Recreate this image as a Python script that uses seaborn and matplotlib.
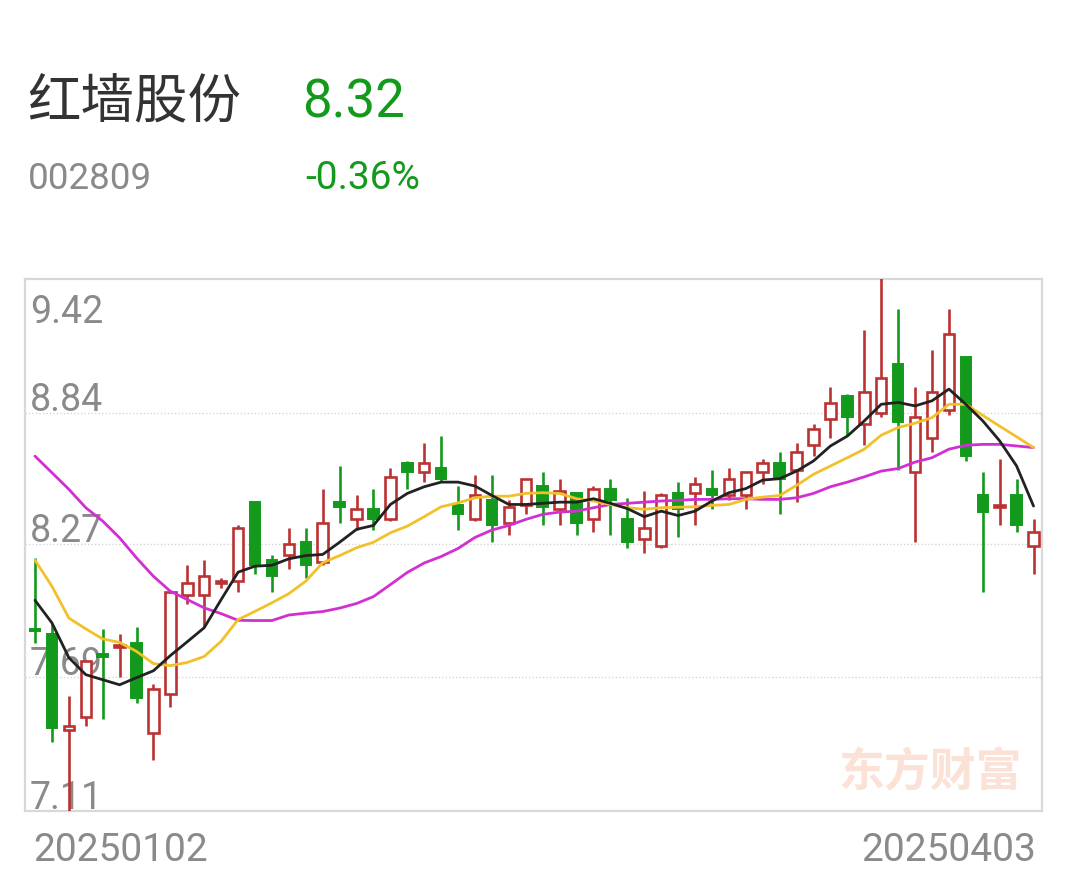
import numpy as np
import pandas as pd
import matplotlib
matplotlib.use("Agg")
import matplotlib.pyplot as plt
import seaborn as sns

# Daily K-line 20250102 - 20250403 (60 trading days)
opens = [7.90, 7.88, 7.46, 7.52, 7.79, 7.82, 7.84, 7.45, 7.62, 8.05,
         8.05, 8.10, 8.11, 8.45, 8.20, 8.22, 8.28, 8.19, 8.45, 8.38,
         8.42, 8.38, 8.62, 8.58, 8.60, 8.44, 8.38, 8.46, 8.36, 8.44,
         8.52, 8.42, 8.49, 8.38, 8.51, 8.38, 8.29, 8.26, 8.49, 8.49,
         8.51, 8.48, 8.48, 8.58, 8.62, 8.59, 8.70, 8.81, 8.91, 8.79,
         8.84, 9.05, 8.58, 8.73, 8.85, 9.08, 8.48, 8.43, 8.48, 8.26]
closes = [7.89, 7.47, 7.48, 7.76, 7.78, 7.83, 7.60, 7.64, 8.06, 8.10,
          8.13, 8.11, 8.34, 8.18, 8.13, 8.27, 8.18, 8.36, 8.43, 8.42,
          8.38, 8.56, 8.58, 8.62, 8.55, 8.40, 8.48, 8.35, 8.43, 8.55,
          8.43, 8.50, 8.36, 8.51, 8.46, 8.28, 8.34, 8.48, 8.42, 8.53,
          8.48, 8.55, 8.58, 8.62, 8.55, 8.67, 8.77, 8.88, 8.82, 8.93,
          8.99, 8.80, 8.82, 8.93, 9.18, 8.65, 8.41, 8.44, 8.35, 8.32]
highs = [8.21, 7.92, 7.61, 7.76, 7.90, 7.88, 7.91, 7.66, 8.07, 8.18,
         8.20, 8.12, 8.35, 8.45, 8.22, 8.34, 8.34, 8.51, 8.61, 8.48,
         8.51, 8.60, 8.63, 8.71, 8.74, 8.52, 8.57, 8.57, 8.46, 8.55,
         8.58, 8.55, 8.49, 8.52, 8.55, 8.47, 8.50, 8.49, 8.54, 8.56,
         8.59, 8.60, 8.58, 8.64, 8.67, 8.71, 8.79, 8.95, 8.92, 9.20,
         9.45, 9.29, 8.95, 9.11, 9.29, 9.08, 8.58, 8.64, 8.55, 8.38]
lows = [7.84, 7.41, 7.08, 7.48, 7.51, 7.69, 7.58, 7.33, 7.56, 8.01,
        7.91, 8.08, 8.06, 8.14, 8.06, 8.16, 8.12, 8.18, 8.36, 8.33,
        8.33, 8.37, 8.51, 8.54, 8.54, 8.33, 8.37, 8.28, 8.31, 8.40,
        8.35, 8.35, 8.31, 8.32, 8.31, 8.25, 8.23, 8.25, 8.30, 8.35,
        8.42, 8.46, 8.42, 8.53, 8.40, 8.45, 8.65, 8.73, 8.74, 8.70,
        8.82, 8.59, 8.28, 8.67, 8.83, 8.63, 8.06, 8.35, 8.32, 8.14]

# moving averages as drawn on the chart
ma5 = [8.025, 7.927, 7.776, 7.702, 7.680, 7.658, 7.689, 7.719, 7.785, 7.845,
       7.906, 8.028, 8.147, 8.173, 8.177, 8.205, 8.219, 8.224, 8.277, 8.333,
       8.350, 8.441, 8.489, 8.518, 8.538, 8.538, 8.521, 8.480, 8.441, 8.441,
       8.446, 8.451, 8.451, 8.466, 8.446, 8.423, 8.388, 8.412, 8.393, 8.412,
       8.456, 8.492, 8.510, 8.547, 8.553, 8.586, 8.630, 8.695, 8.738, 8.804,
       8.876, 8.884, 8.869, 8.891, 8.942, 8.876, 8.804, 8.717, 8.608, 8.434]
ma10 = [8.199, 8.086, 7.948, 7.901, 7.857, 7.842, 7.803, 7.750, 7.741, 7.755,
        7.781, 7.847, 7.941, 7.977, 8.014, 8.054, 8.108, 8.188, 8.219, 8.253,
        8.277, 8.318, 8.347, 8.388, 8.431, 8.448, 8.470, 8.477, 8.477, 8.489,
        8.492, 8.489, 8.466, 8.456, 8.441, 8.427, 8.420, 8.427, 8.429, 8.431,
        8.437, 8.441, 8.463, 8.473, 8.480, 8.524, 8.572, 8.608, 8.644, 8.681,
        8.742, 8.775, 8.794, 8.818, 8.876, 8.876, 8.828, 8.781, 8.735, 8.688]
ma20 = [8.651, 8.579, 8.507, 8.427, 8.369, 8.296, 8.209, 8.129, 8.064, 8.028,
        7.992, 7.967, 7.938, 7.937, 7.937, 7.961, 7.969, 7.976, 7.991, 8.011,
        8.041, 8.093, 8.146, 8.187, 8.215, 8.250, 8.298, 8.330, 8.350, 8.376,
        8.398, 8.408, 8.412, 8.427, 8.441, 8.446, 8.451, 8.456, 8.459, 8.463,
        8.463, 8.466, 8.466, 8.463, 8.463, 8.470, 8.489, 8.518, 8.538, 8.561,
        8.586, 8.597, 8.625, 8.644, 8.681, 8.698, 8.702, 8.702, 8.695, 8.688]

grid_levels = [8.84, 8.27, 7.69]
tick_labels = ["9.42", "8.84", "8.27", "7.69", "7.11"]
first_date, last_date = "20250102", "20250403"
stock_name, stock_code = "红墙股份", "002809"
last_price, pct_change = "8.32", "-0.36%"

RED = "#bb3232"
GREEN = "#139a1c"
GRAY = "#8a8a8a"

sns.set_theme(style="white")
plt.rcParams["font.family"] = ["Roboto", "Noto Sans CJK SC", "DejaVu Sans"]

W, H = 1068, 878
fig = plt.figure(figsize=(W / 100, H / 100), dpi=100)
fig.patch.set_facecolor("white")

def fx(px):
    return px / W

def fy(py):
    return 1 - py / H

ax = fig.add_axes([fx(25), fy(812), fx(1017), 532 / H])
ymin, ymax = 7.11, 9.42
ax.set_xticks([])
ax.set_yticks([])
for s in ax.spines.values():
    s.set_color("#d8d8d8")
    s.set_linewidth(1.6)

for lv in grid_levels:
    ax.axhline(lv, color="#d6d6d6", lw=1.0, ls=(0, (1, 1.5)), zorder=0)

# price labels inside the plot, drawn below the candles
px_per_unit = 531 / (ymax - ymin)
label_pos = [ymax - 43 / px_per_unit] + [v + 3 / px_per_unit for v in grid_levels] + [ymin + 3 / px_per_unit]
for txt, yv in zip(tick_labels, label_pos):
    ax.text(0.005, yv, txt, transform=ax.get_yaxis_transform(), ha="left", va="baseline",
            fontsize=27, color=GRAY, zorder=1)

# watermark
fig.text(fx(930), fy(773), "东方财富", ha="center", va="center", fontsize=33,
         fontweight="bold", color="#fbe1d6", family=["Noto Sans CJK SC"], zorder=0)

# candles
df = pd.DataFrame({"open": opens, "close": closes, "high": highs, "low": lows})
df["i"] = np.arange(len(df))
body_w = 0.62
for row in df.itertuples():
    rising = row.close >= row.open
    col = RED if rising else GREEN
    lo_b, hi_b = min(row.open, row.close), max(row.open, row.close)
    ax.vlines(row.i, row.low, row.high, color=col, lw=1.9, zorder=3)
    h = max(hi_b - lo_b, 0.004)
    if rising:
        ax.bar(row.i, h, bottom=lo_b, width=body_w, facecolor="white", edgecolor=col,
               linewidth=1.9, zorder=4)
    else:
        ax.bar(row.i, h, bottom=lo_b, width=body_w, facecolor=col, edgecolor=col,
               linewidth=1.4, zorder=4)

ma = pd.DataFrame({"i": np.arange(len(ma5)), "ma5": ma5, "ma10": ma10, "ma20": ma20})
sns.lineplot(data=ma, x="i", y="ma20", color="#d22fd2", lw=2.0, ax=ax, zorder=5)
sns.lineplot(data=ma, x="i", y="ma10", color="#f2c12a", lw=2.0, ax=ax, zorder=5)
sns.lineplot(data=ma, x="i", y="ma5", color="#222222", lw=2.0, ax=ax, zorder=6)
ax.set_xlabel("")
ax.set_ylabel("")
ax.set_xlim(-0.59, 59.5)
ax.set_ylim(ymin, ymax)

# header
fig.text(fx(27), fy(117), stock_name, ha="left", va="baseline", fontsize=38.5,
         color="#333333", family=["Noto Sans CJK SC"])
fig.text(fx(302), fy(117), last_price, ha="left", va="baseline", fontsize=38, color=GREEN)
fig.text(fx(28), fy(189), stock_code, ha="left", va="baseline", fontsize=26.5, color=GRAY)
fig.text(fx(305), fy(189), pct_change, ha="left", va="baseline", fontsize=28, color=GREEN)

# dates
fig.text(fx(33), fy(861), first_date, ha="left", va="baseline", fontsize=28, color=GRAY)
fig.text(fx(1036), fy(861), last_date, ha="right", va="baseline", fontsize=28, color=GRAY)

fig.savefig("out.png", dpi=100, facecolor="white")
